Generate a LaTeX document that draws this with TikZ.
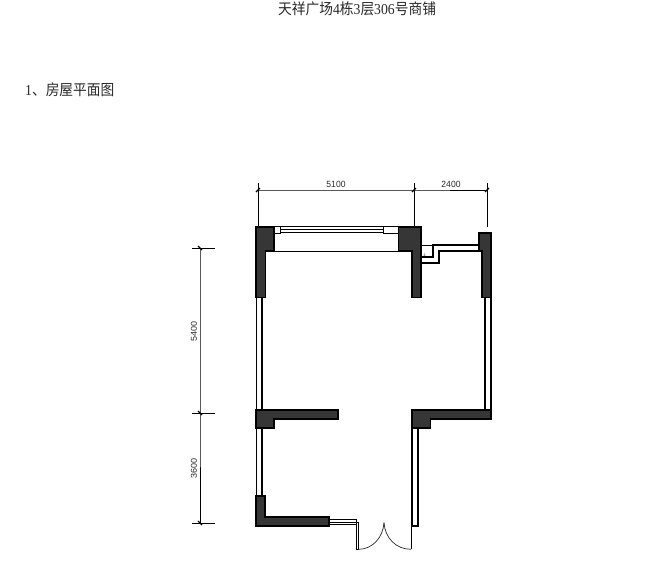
\documentclass[tikz,border=0pt]{standalone}
\usepackage{fontspec}
\setmainfont{Liberation Serif}
\newfontfamily\cjk{Noto Sans CJK SC}
\newfontfamily\dimfont{Liberation Sans}
\definecolor{wallgrey}{HTML}{363636}
\definecolor{inkgrey}{HTML}{2A2A2A}
\tikzset{
  wallblock/.style={fill=wallgrey,draw=black,line width=1.4pt,line join=miter},
  walledge/.style={draw=black,line width=1.6pt},
  thinline/.style={draw=black,line width=0.6pt},
  midline/.style={draw=black,line width=1pt},
  arcline/.style={draw=inkgrey,line width=0.7pt},
  balcony/.style={draw=black,line width=1.3pt},
  dimline/.style={draw=black,line width=1pt},
  tickmark/.style={draw=black,line width=1.1pt},
  dimtext/.style={font=\dimfont\fontsize{9}{10}\selectfont,text=inkgrey,inner sep=0pt,xscale=0.95},
  headtext/.style={font=\cjk\fontsize{14}{15}\selectfont,text=inkgrey,inner sep=0pt,anchor=west,xscale=0.98,yscale=1.08}
}
\begin{document}
\begin{tikzpicture}[x=1pt,y=-1pt]
\useasboundingbox (0,0) rectangle (656,563);
\fill[white] (0,0) rectangle (656,563);
% headings
\node[headtext] (title) at (278,9) {天祥广场{\fontspec{Liberation Serif}4}栋{\fontspec{Liberation Serif}3}层{\fontspec{Liberation Serif}306}号商铺};
\node[headtext] (sub) at (25,90) {{\fontspec{Liberation Serif}1}、房屋平面图};
% wall double lines
\draw[walledge] (256.5,298) -- (256.5,409) (262,298) -- (262,409);
\draw[walledge] (256.5,428) -- (256.5,496) (262,428) -- (262,496);
\draw[walledge] (485,298) -- (485,409) (490.7,298) -- (490.7,409);
\draw[walledge] (412,428) -- (412,526) (418,428) -- (418,526) -- (411,526);
% window at top
\draw[thinline] (274,226.7) -- (398,226.7);
\draw[midline] (280,229.5) -- (383,229.5) (280,232.3) -- (383,232.3);
\draw[midline] (274,233) -- (280,233) -- (280,227);
\draw[midline] (398,233) -- (383,233) -- (383,227);
\draw[midline] (274,251) -- (398,251);
% wall blocks
\draw[wallblock] (256,227) -- (274,227) -- (274,251) -- (265.5,251) -- (265.5,297.5) -- (256,297.5) -- cycle;
\draw[wallblock] (398.5,227) -- (421,227) -- (421,297.5) -- (412,297.5) -- (412,251) -- (398.5,251) -- cycle;
\draw[wallblock] (479,233) -- (491,233) -- (491,297.5) -- (482,297.5) -- (482,251) -- (479,251) -- cycle;
\draw[wallblock] (256,410) -- (338,410) -- (338,419) -- (274,419) -- (274,428) -- (256,428) -- cycle;
\draw[wallblock] (412,410) -- (491,410) -- (491,419) -- (430.5,419) -- (430.5,428) -- (412,428) -- cycle;
\draw[wallblock] (256,496) -- (265,496) -- (265,517) -- (329,517) -- (329,526) -- (256,526) -- cycle;
% balcony step lines
\draw[thinline] (421,245) -- (433,245);
\draw[balcony] (421,257) -- (433,257) -- (433,245) -- (478.5,245);
\draw[balcony] (421,263) -- (439,263) -- (439,251) -- (479,251);
\node[font=\dimfont\fontsize{3.5}{4}\selectfont,inner sep=0pt] (mark) at (424.5,255) {2};
% door
\draw[thinline] (329,519.3) -- (356.5,519.3) (329,522) -- (358.7,522) (329,524.7) -- (356.5,524.7);
\draw[midline] (356.5,519.3) -- (356.5,549.3) -- (358.7,549.3) -- (358.7,522);
\draw[midline] (411,526) -- (411,549.3);
\draw[arcline] (384,522.7) .. controls (383,538) and (372,549.3) .. (358.7,549.3);
\draw[arcline] (384,522.7) .. controls (385,538) and (396,549.3) .. (411,549.3);
% dimensions top
\coordinate (t1) at (258,190); \coordinate (t2) at (414,190); \coordinate (t3) at (487,190);
\draw[dimline] (t1) -- (t2) -- (t3);
\draw[dimline] (258,183) -- (258,226) (414,183) -- (414,226) (487,183) -- (487,227);
\foreach \p in {t1,t2,t3} \draw[tickmark] ([shift={(-2,2)}]\p) -- ([shift={(2,-2)}]\p);
\node[dimtext] (w1) at (336,184) {5100};
\node[dimtext] (w2) at (451,184) {2400};
% dimensions left
\coordinate (l1) at (200,248); \coordinate (l2) at (200,413); \coordinate (l3) at (200,523);
\draw[dimline] (l1) -- (l2) -- (l3);
\draw[dimline] (192,248) -- (215,248) (192,413) -- (215,413) (192,523) -- (215,523);
\foreach \p in {l1,l2,l3} \draw[tickmark] ([shift={(-2,-2)}]\p) -- ([shift={(2,2)}]\p);
\node[dimtext,rotate=90] (h1) at (194,331) {5400};
\node[dimtext,rotate=90] (h2) at (194,468) {3600};
\end{tikzpicture}
\end{document}
